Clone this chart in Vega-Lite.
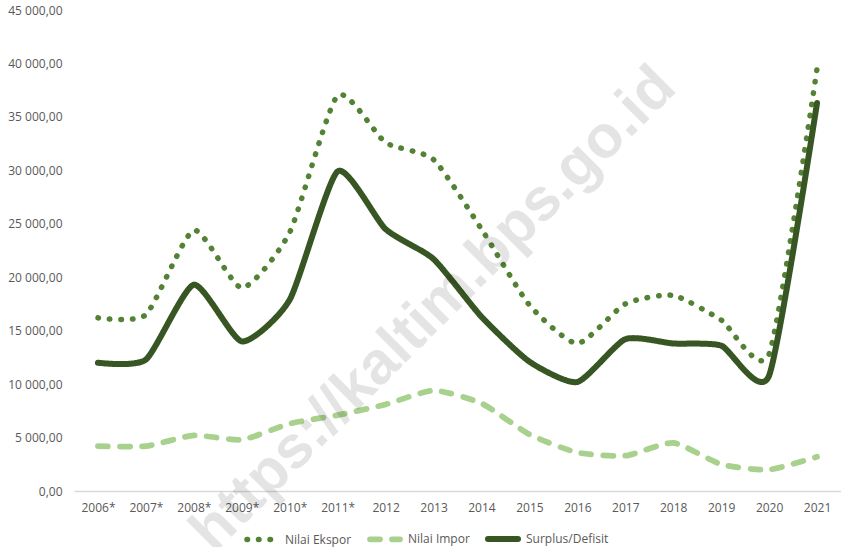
{
  "$schema": "https://vega.github.io/schema/vega-lite/v6.json",
  "width": 767,
  "height": 481,
  "autosize": "none",
  "padding": {"left": 74, "top": 10, "right": 0, "bottom": 56},
  "background": "white",
  "config": {"view": {"stroke": null}, "font": "Open Sans"},
  "datasets": {
    "trade": [
      {"year": "2006*", "series": "Nilai Ekspor", "value": 16200},
      {"year": "2007*", "series": "Nilai Ekspor", "value": 16500},
      {"year": "2008*", "series": "Nilai Ekspor", "value": 24400},
      {"year": "2009*", "series": "Nilai Ekspor", "value": 19000},
      {"year": "2010*", "series": "Nilai Ekspor", "value": 24200},
      {"year": "2011*", "series": "Nilai Ekspor", "value": 37000},
      {"year": "2012", "series": "Nilai Ekspor", "value": 32600},
      {"year": "2013", "series": "Nilai Ekspor", "value": 31000},
      {"year": "2014", "series": "Nilai Ekspor", "value": 24500},
      {"year": "2015", "series": "Nilai Ekspor", "value": 17400},
      {"year": "2016", "series": "Nilai Ekspor", "value": 13800},
      {"year": "2017", "series": "Nilai Ekspor", "value": 17500},
      {"year": "2018", "series": "Nilai Ekspor", "value": 18300},
      {"year": "2019", "series": "Nilai Ekspor", "value": 16000},
      {"year": "2020", "series": "Nilai Ekspor", "value": 12800},
      {"year": "2021", "series": "Nilai Ekspor", "value": 39500},
      {"year": "2006*", "series": "Nilai Impor", "value": 4200},
      {"year": "2007*", "series": "Nilai Impor", "value": 4200},
      {"year": "2008*", "series": "Nilai Impor", "value": 5200},
      {"year": "2009*", "series": "Nilai Impor", "value": 4800},
      {"year": "2010*", "series": "Nilai Impor", "value": 6300},
      {"year": "2011*", "series": "Nilai Impor", "value": 7100},
      {"year": "2012", "series": "Nilai Impor", "value": 8100},
      {"year": "2013", "series": "Nilai Impor", "value": 9400},
      {"year": "2014", "series": "Nilai Impor", "value": 8200},
      {"year": "2015", "series": "Nilai Impor", "value": 5300},
      {"year": "2016", "series": "Nilai Impor", "value": 3600},
      {"year": "2017", "series": "Nilai Impor", "value": 3300},
      {"year": "2018", "series": "Nilai Impor", "value": 4500},
      {"year": "2019", "series": "Nilai Impor", "value": 2500},
      {"year": "2020", "series": "Nilai Impor", "value": 2000},
      {"year": "2021", "series": "Nilai Impor", "value": 3200},
      {"year": "2006*", "series": "Surplus/Defisit", "value": 12000},
      {"year": "2007*", "series": "Surplus/Defisit", "value": 12300},
      {"year": "2008*", "series": "Surplus/Defisit", "value": 19300},
      {"year": "2009*", "series": "Surplus/Defisit", "value": 14000},
      {"year": "2010*", "series": "Surplus/Defisit", "value": 17900},
      {"year": "2011*", "series": "Surplus/Defisit", "value": 29900},
      {"year": "2012", "series": "Surplus/Defisit", "value": 24500},
      {"year": "2013", "series": "Surplus/Defisit", "value": 21700},
      {"year": "2014", "series": "Surplus/Defisit", "value": 16300},
      {"year": "2015", "series": "Surplus/Defisit", "value": 12100},
      {"year": "2016", "series": "Surplus/Defisit", "value": 10200},
      {"year": "2017", "series": "Surplus/Defisit", "value": 14200},
      {"year": "2018", "series": "Surplus/Defisit", "value": 13800},
      {"year": "2019", "series": "Surplus/Defisit", "value": 13600},
      {"year": "2020", "series": "Surplus/Defisit", "value": 10800},
      {"year": "2021", "series": "Surplus/Defisit", "value": 36300}
    ],
    "mark": [
      {"label": "https://kaltim.bps.go.id"}
    ]
  },
  "layer": [
    {
      "data": {"name": "trade"},
      "mark": {"type": "line", "interpolate": "cardinal", "tension": 0.4, "strokeCap": "round", "strokeJoin": "round"},
      "encoding": {
        "x": {
          "field": "year",
          "type": "ordinal",
          "scale": {"type": "point", "padding": 0.5, "domain": ["2006*", "2007*", "2008*", "2009*", "2010*", "2011*", "2012", "2013", "2014", "2015", "2016", "2017", "2018", "2019", "2020", "2021"]},
          "axis": {"title": null, "labelAngle": 0, "ticks": false, "grid": false, "domainColor": "#d9d9d9", "domainWidth": 1.5, "labelColor": "#595959", "labelFontSize": 12, "labelPadding": 11, "labelFont": "Open Sans"}
        },
        "y": {
          "field": "value",
          "type": "quantitative",
          "scale": {"domain": [0, 45000], "nice": false},
          "axis": {"title": null, "values": [0, 5000, 10000, 15000, 20000, 25000, 30000, 35000, 40000, 45000], "labelExpr": "replace(replace(format(datum.value, ',.2f'), ',', ' '), '.', ',')", "ticks": false, "domain": false, "grid": false, "labelPadding": 12, "labelColor": "#595959", "labelFontSize": 12, "labelFont": "Open Sans"}
        },
        "color": {
          "field": "series",
          "type": "nominal",
          "scale": {"domain": ["Nilai Ekspor", "Nilai Impor", "Surplus/Defisit"], "range": ["#548235", "#a9d18e", "#375623"]},
          "legend": {"orient": "none", "legendX": 170, "legendY": 511, "direction": "horizontal", "title": null, "symbolType": "stroke", "symbolSize": 900, "symbolStrokeWidth": 5, "labelFont": "Open Sans", "labelFontSize": 12, "labelColor": "#595959", "columnPadding": 6, "labelOffset": 5, "padding": 0, "encode": {"symbols": {"update": {"strokeCap": {"value": "round"}}}}}
        },
        "strokeDash": {
          "field": "series",
          "type": "nominal",
          "scale": {"domain": ["Nilai Ekspor", "Nilai Impor", "Surplus/Defisit"], "range": [[0.5, 11], [10, 12], [1, 0]]},
          "legend": {"orient": "none", "legendX": 170, "legendY": 511, "direction": "horizontal", "title": null, "symbolType": "stroke", "symbolSize": 900, "symbolStrokeWidth": 5, "labelFont": "Open Sans", "labelFontSize": 12, "labelColor": "#595959", "columnPadding": 6, "labelOffset": 5, "padding": 0, "encode": {"symbols": {"update": {"strokeCap": {"value": "round"}}}}}
        },
        "strokeWidth": {
          "field": "series",
          "type": "nominal",
          "scale": {"domain": ["Nilai Ekspor", "Nilai Impor", "Surplus/Defisit"], "range": [5.5, 6, 5]},
          "legend": null
        }
      }
    },
    {
      "data": {"name": "mark"},
      "mark": {"type": "text", "angle": -45, "fontSize": 60, "fontWeight": "bold", "font": "Liberation Sans", "fill": "#000000", "opacity": 0.1, "align": "center", "baseline": "middle"},
      "encoding": {
        "x": {"datum": "2013", "type": "ordinal"},
        "y": {"datum": 17000, "type": "quantitative"},
        "text": {"field": "label"}
      }
    }
  ]
}
